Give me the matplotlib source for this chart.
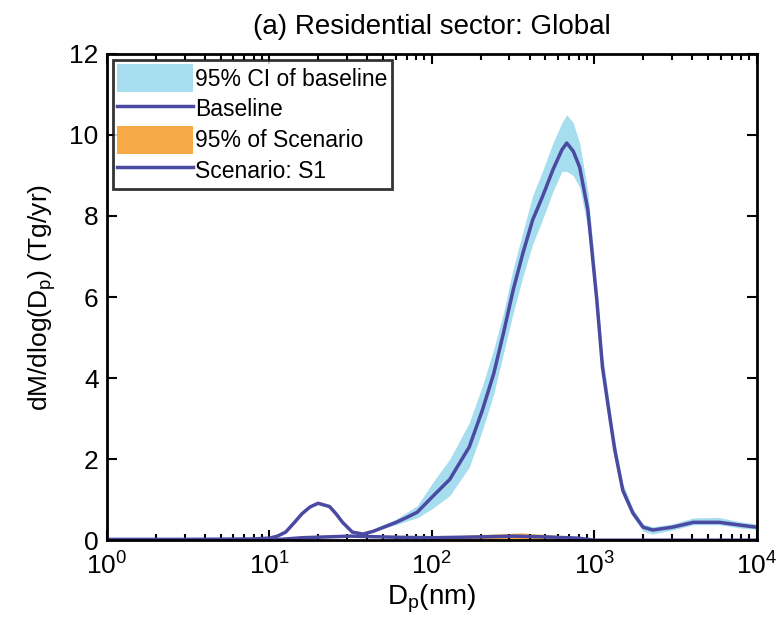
import numpy as np
import matplotlib
matplotlib.use('Agg')
import matplotlib.pyplot as plt
from matplotlib.patches import Patch
from matplotlib.lines import Line2D

plt.rcParams['font.family'] = ['Liberation Sans', 'DejaVu Sans']
plt.rcParams['mathtext.fontset'] = 'custom'
plt.rcParams['mathtext.rm'] = 'Liberation Sans'

# log10 of diameter (nm) and baseline dM/dlogDp (Tg/yr)
base_logd = [0.0, 0.5, 0.9, 1.0, 1.05, 1.1, 1.15, 1.2, 1.25, 1.3, 1.37, 1.41, 1.45, 1.51,
             1.575, 1.64, 1.78, 1.85, 1.91, 2.01, 2.11, 2.23, 2.31, 2.38, 2.44, 2.50, 2.56,
             2.62, 2.68, 2.745, 2.80, 2.83, 2.87, 2.91, 2.96, 3.015, 3.05, 3.095, 3.126,
             3.175, 3.237, 3.30, 3.36, 3.48, 3.61, 3.77, 3.90, 4.0]
base_val = [0.02, 0.02, 0.03, 0.05, 0.1, 0.2, 0.42, 0.65, 0.82, 0.91, 0.83, 0.65, 0.44, 0.2,
            0.15, 0.22, 0.44, 0.57, 0.69, 1.1, 1.5, 2.3, 3.2, 4.1, 5.1, 6.17, 7.08,
            7.9, 8.47, 9.14, 9.63, 9.8, 9.6, 9.2, 8.15, 5.93, 4.27, 3.04, 2.22,
            1.23, 0.67, 0.32, 0.25, 0.32, 0.44, 0.44, 0.37, 0.32]

# 95% CI of baseline
ci_logd = [1.64, 1.78, 1.85, 1.91, 2.01, 2.11, 2.23, 2.31, 2.38, 2.44, 2.50, 2.56, 2.62, 2.68,
           2.745, 2.80, 2.83, 2.87, 2.91, 2.96, 3.015, 3.05, 3.095, 3.126, 3.175, 3.237,
           3.30, 3.36, 3.48, 3.61, 3.77, 3.90, 4.0]
ci_lo = [0.22, 0.38, 0.48, 0.55, 0.8, 1.1, 1.8, 2.7, 3.6, 4.6, 5.6, 6.5, 7.3, 7.9,
         8.6, 9.1, 9.1, 9.0, 8.7, 7.7, 5.6, 4.0, 2.8, 2.0, 1.1, 0.58,
         0.22, 0.15, 0.25, 0.38, 0.38, 0.30, 0.27]
ci_hi = [0.28, 0.52, 0.7, 0.85, 1.45, 2.0, 2.9, 3.8, 4.7, 5.6, 6.7, 7.6, 8.5, 9.1,
         9.8, 10.3, 10.5, 10.3, 9.8, 8.6, 6.3, 4.6, 3.3, 2.45, 1.4, 0.78,
         0.40, 0.33, 0.40, 0.55, 0.56, 0.45, 0.40]

# scenario S1
scen_logd = [0.0, 1.0, 1.2, 1.5, 1.8, 2.0, 2.3, 2.5, 2.7, 2.9, 3.0, 4.0]
scen_val = [0.0, 0.0, 0.06, 0.1, 0.07, 0.06, 0.08, 0.1, 0.08, 0.05, 0.0, 0.0]

scen_ci_logd = [2.0, 2.3, 2.45, 2.55, 2.7, 2.9, 2.95]
scen_ci_lo = [0.0, 0.0, 0.0, 0.0, 0.0, 0.0, 0.0]
scen_ci_hi = [0.08, 0.14, 0.16, 0.18, 0.14, 0.08, 0.0]

blue_band = '#a6ddef'
orange_band = '#f6aa48'
line_col = '#4a4aa2'

fig = plt.figure(figsize=(7.81, 6.34), dpi=100)
ax = fig.add_axes([0.137, 0.148, 0.832, 0.767])

ax.fill_between(10 ** np.array(ci_logd), ci_lo, ci_hi, color=blue_band, lw=0)
ax.fill_between(10 ** np.array(scen_ci_logd), scen_ci_lo, scen_ci_hi, color=orange_band, lw=0)
ax.plot(10 ** np.array(base_logd), base_val, color=line_col, lw=2.5)
ax.plot(10 ** np.array(scen_logd), scen_val, color=line_col, lw=2.5)

ax.set_xscale('log')
ax.set_xlim(1, 1e4)
ax.set_ylim(0, 12)
ax.set_yticks(range(0, 13, 2))
ax.tick_params(which='both', direction='in', top=True, right=True, labelsize=19, width=1.5)
ax.tick_params(which='major', length=7)
ax.tick_params(which='minor', length=4)
ax.tick_params(axis='x', pad=9)
ax.tick_params(axis='y', pad=6)
for s in ax.spines.values():
    s.set_linewidth(2)

ax.set_title('(a) Residential sector: Global', fontsize=20, pad=14)
ax.set_xlabel(r'D$_\mathrm{p}$(nm)', fontsize=20, labelpad=2)
ax.set_ylabel(r'dM/dlog(D$_\mathrm{p}$) (Tg/yr)', fontsize=19, labelpad=8)

handles = [Patch(facecolor=blue_band, edgecolor='none'),
           Line2D([], [], color=line_col, lw=2.5),
           Patch(facecolor=orange_band, edgecolor='none'),
           Line2D([], [], color=line_col, lw=2.5)]
labels = ['95% CI of baseline', 'Baseline', '95% of Scenario', 'Scenario: S1']
leg = ax.legend(handles, labels, loc='upper left', fontsize=16.5, frameon=True,
                fancybox=False, handlelength=3.3, handleheight=1.5, handletextpad=0.1,
                borderaxespad=0.25, borderpad=0.2, labelspacing=0.12)
leg.get_frame().set_edgecolor('black')
leg.get_frame().set_linewidth(2)

fig.savefig('out.png', dpi=100)
